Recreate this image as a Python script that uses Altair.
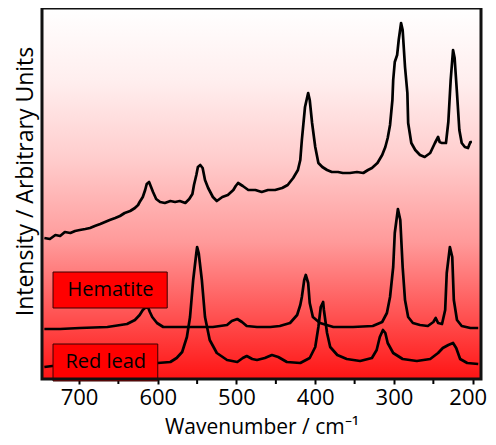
import altair as alt
import pandas as pd

W = 439
H = 371
FONT = "Open Sans"

# Sample spectrum (top trace)
sample_wn = [744, 737, 730, 724, 718, 711, 705, 699, 692, 686, 680, 673, 667, 661, 654, 648, 642, 635, 629, 625,
             623, 619, 616, 614, 611, 609, 606, 602, 597, 591, 584, 578, 572, 565, 560, 556, 554, 551, 549, 546,
             543, 540, 536, 530, 525, 518, 511, 504, 501, 498, 492, 485, 476, 468, 460, 451, 442, 435, 428, 422,
             419, 417, 413, 409, 407, 404, 400, 396, 391, 385, 379, 371, 365, 356, 347, 339, 333, 328, 321, 315,
             311, 308, 305, 302, 301, 299, 296, 294, 291, 289, 286, 283, 282, 278, 273, 267, 261, 254, 248, 244,
             242, 239, 234, 231, 228, 225, 223, 220, 217, 214, 210, 206, 203, 201]
sample_int = [141, 140, 144, 143, 147, 146, 148, 149, 150, 151, 153, 155, 157, 159, 161, 163, 166, 168, 171, 174,
              177, 182, 189, 195, 197, 193, 187, 180, 177, 176, 178, 177, 178, 176, 180, 185, 194, 204, 212, 214,
              211, 199, 191, 182, 178, 182, 184, 189, 193, 196, 193, 189, 189, 187, 189, 189, 191, 194, 201, 209,
              219, 239, 272, 286, 279, 256, 232, 216, 212, 209, 207, 207, 206, 206, 207, 206, 209, 211, 216, 224,
              232, 241, 254, 279, 299, 317, 324, 339, 356, 349, 312, 286, 256, 236, 229, 224, 222, 226, 236, 242,
              237, 236, 236, 257, 299, 329, 321, 286, 249, 236, 232, 231, 237, 237]

# Hematite reference
hem_wn = [744, 724, 699, 664, 639, 629, 623, 619, 615, 612, 610, 607, 601, 593, 581, 563, 546, 530, 512, 506,
          499, 493, 487, 474, 457, 445, 432, 423, 419, 417, 414, 412, 409, 407, 403, 394, 377, 352, 327, 315,
          309, 305, 301, 299, 296, 295, 292, 289, 286, 282, 276, 267, 257, 250, 247, 244, 239, 235, 233, 229,
          226, 224, 220, 214, 203, 193]
hem_int = [50, 50, 51, 52, 55, 59, 64, 69, 72, 71, 67, 62, 56, 52, 52, 52, 52, 52, 54, 58,
           60, 57, 53, 52, 52, 53, 56, 64, 74, 82, 99, 104, 96, 76, 62, 56, 52, 52, 53, 57,
           66, 82, 112, 146, 164, 170, 159, 112, 79, 62, 56, 54, 53, 57, 61, 56, 55, 69, 106, 132,
           122, 79, 59, 53, 51, 51]

# Red lead reference
red_wn = [744, 734, 673, 610, 600, 584, 576, 569, 563, 559, 555, 551, 550, 548, 544, 540, 534, 525, 512, 499,
          492, 487, 480, 474, 464, 455, 447, 436, 419, 407, 400, 396, 393, 390, 389, 385, 381, 372, 360, 343,
          328, 322, 318, 314, 311, 308, 301, 289, 271, 254, 244, 238, 231, 225, 221, 216, 207, 193]
red_int = [12, 13, 13, 14, 16, 17, 21, 27, 42, 62, 99, 126, 132, 126, 99, 62, 39, 26, 19, 17,
           21, 23, 20, 19, 21, 24, 22, 17, 16, 21, 32, 52, 72, 77, 69, 46, 32, 24, 20, 18,
           21, 29, 42, 49, 46, 36, 26, 20, 18, 20, 26, 31, 34, 36, 31, 20, 16, 15]

# Labels (boxes in data units)
label_text = ["Hematite", "Red lead"]
label_x_left = [733, 733]
label_x_right = [588, 600]
label_y_top = [107, 35]
label_y_bottom = [71, -2]
label_x_mid = [660, 666]
label_y_mid = [89, 17]

major_ticks = [200, 300, 400, 500, 600, 700]
minor_ticks = [250, 350, 450, 550, 650]

lines = pd.concat([
    pd.DataFrame({"wn": sample_wn, "I": sample_int, "s": "Sample"}),
    pd.DataFrame({"wn": hem_wn, "I": hem_int, "s": "Hematite"}),
    pd.DataFrame({"wn": red_wn, "I": red_int, "s": "Red lead"}),
])
labels = pd.DataFrame({"t": label_text, "x1": label_x_left, "x2": label_x_right,
                       "y1": label_y_top, "y2": label_y_bottom,
                       "xm": label_x_mid, "ym": label_y_mid})

xscale = alt.Scale(domain=[189.5, 747], reverse=True, nice=False, zero=False)
yscale = alt.Scale(domain=[0, 371], nice=False, zero=False)

xaxis = alt.Axis(values=major_ticks, title="Wavenumber / cm⁻¹", grid=False, domain=False,
                 tickSize=5, tickWidth=2, tickColor="black", labelFont=FONT, labelFontSize=22,
                 labelColor="black", labelPadding=3,
                 labelOffset={"condition": {"test": "datum.value === 200", "value": -5}, "value": 0},
                 titleFont=FONT, titleFontSize=21,
                 titleFontWeight="normal", titleColor="black", titlePadding=8)
yaxis = alt.Axis(title="Intensity / Arbitrary Units", grid=False, domain=False, ticks=False,
                 labels=False, titleFont=FONT, titleFontSize=23, titleFontWeight="normal",
                 titleColor="black", titleX=-10, titleY=173, titleAngle=270,
                 titleBaseline="alphabetic", titleAlign="center")

grad = alt.LinearGradient(gradient="linear", x1=0, y1=0, x2=0, y2=1, stops=[
    alt.GradientStop(offset=0, color="#ffffff"),
    alt.GradientStop(offset=0.2, color="#ffeeee"),
    alt.GradientStop(offset=0.41, color="#ffcccc"),
    alt.GradientStop(offset=0.63, color="#ff9a9a"),
    alt.GradientStop(offset=1, color="#ff1414"),
])

bg = alt.Chart(pd.DataFrame({"a": [0]})).mark_rect(color=grad).encode(
    x=alt.value(0), x2=alt.value(W), y=alt.value(0), y2=alt.value(H))

line_layer = alt.Chart(lines).mark_line(color="black", strokeWidth=2.7, strokeJoin="round").encode(
    x=alt.X("wn:Q", scale=xscale, axis=xaxis),
    y=alt.Y("I:Q", scale=yscale, axis=yaxis),
    detail="s:N",
)

minor = alt.Chart(pd.DataFrame({"m": minor_ticks})).mark_rule(color="black", strokeWidth=2).encode(
    x=alt.X("m:Q", scale=xscale), y=alt.value(H), y2=alt.value(H + 5))

boxes = alt.Chart(labels).mark_rect(fill="#ff0000", stroke="#3a0000", strokeWidth=1).encode(
    x=alt.X("x1:Q", scale=xscale), x2="x2:Q",
    y=alt.Y("y1:Q", scale=yscale), y2="y2:Q",
)

texts = alt.Chart(labels).mark_text(font=FONT, fontSize=20, color="black", baseline="middle",
                                    align="center").encode(
    x=alt.X("xm:Q", scale=xscale), y=alt.Y("ym:Q", scale=yscale), text="t:N")

frame = alt.Chart(pd.DataFrame({"a": [0]})).mark_rect(fillOpacity=0, stroke="#111111",
                                                      strokeWidth=3).encode(
    x=alt.value(0), x2=alt.value(W), y=alt.value(0), y2=alt.value(H))

chart = alt.layer(bg, line_layer, minor, boxes, texts, frame).properties(
    width=W, height=H,
    autosize=alt.AutoSizeParams(type="none"),
    padding={"left": 34, "top": 0, "right": 7, "bottom": 60},
).configure_view(strokeWidth=0)

chart.save("out.html", embed_options={"renderer": "svg", "actions": False})
